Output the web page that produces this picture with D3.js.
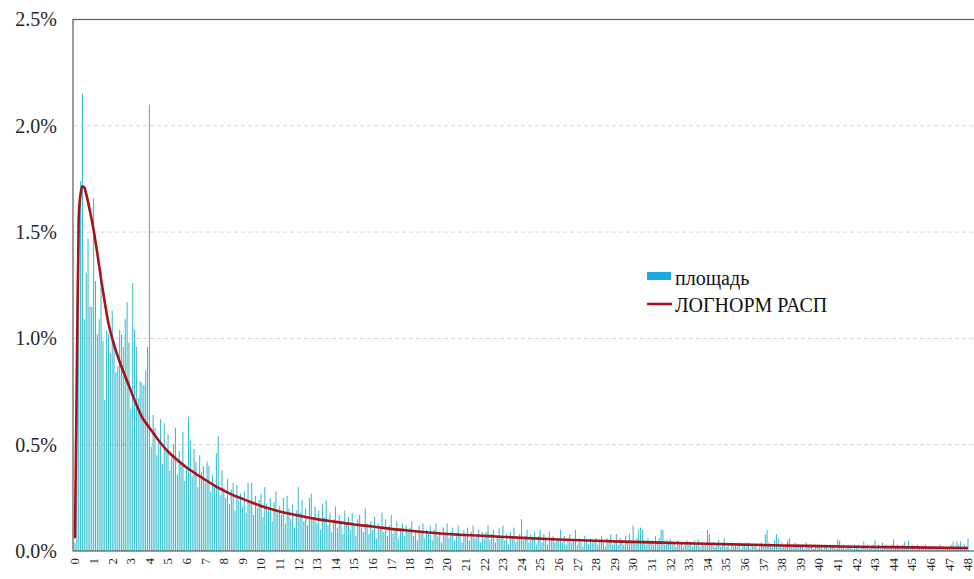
<!DOCTYPE html>
<html>
<head>
<meta charset="utf-8">
<script src="https://cdn.jsdelivr.net/npm/d3@7"></script>
<style>
  html, body { margin: 0; padding: 0; background: #fff; }
  svg { display: block; }
  .serif { font-family: "Liberation Serif", "DejaVu Serif", "Noto Serif", "Times New Roman", Times, serif; }
</style>
</head>
<body>
<svg id="chart" width="974" height="579"></svg>
<script>
// Histogram: bins of 0.1, share of all objects in percent (481 bins, 0.0 … 48.0)
const binStep = 0.1;
const areaShare = [
  // 0
  0.04, 0.91, 1.61, 1.74, 2.15, 1.09, 1.31, 1.47, 1.15, 1.15,
  // 1
  1.66, 1.27, 1.02, 1.09, 1.32, 0.99, 0.71, 1.04, 1.02, 0.93,
  // 2
  1.13, 0.99, 0.84, 0.87, 1.04, 1.02, 0.96, 1.09, 1.17, 0.98,
  // 3
  0.67, 1.26, 1.04, 0.96, 0.72, 0.80, 0.79, 0.78, 0.85, 0.96,
  // 4
  2.10, 0.49, 0.64, 0.58, 0.45, 0.52, 0.62, 0.41, 0.60, 0.47,
  // 5
  0.55, 0.38, 0.44, 0.50, 0.58, 0.36, 0.47, 0.42, 0.56, 0.33,
  // 6
  0.40, 0.63, 0.52, 0.35, 0.48, 0.42, 0.30, 0.45, 0.37, 0.40,
  // 7
  0.32, 0.42, 0.40, 0.28, 0.36, 0.30, 0.46, 0.54, 0.26, 0.38,
  // 8
  0.30, 0.25, 0.34, 0.22, 0.29, 0.32, 0.19, 0.31, 0.24, 0.27,
  // 9
  0.21, 0.28, 0.18, 0.32, 0.23, 0.32, 0.17, 0.26, 0.20, 0.24,
  // 10
  0.27, 0.16, 0.30, 0.22, 0.19, 0.25, 0.14, 0.23, 0.28, 0.18,
  // 11
  0.21, 0.17, 0.25, 0.13, 0.26, 0.20, 0.15, 0.22, 0.11, 0.19,
  // 12
  0.30, 0.18, 0.24, 0.14, 0.20, 0.12, 0.25, 0.27, 0.16, 0.21,
  // 13
  0.13, 0.19, 0.10, 0.22, 0.16, 0.24, 0.12, 0.18, 0.09, 0.15,
  // 14
  0.21, 0.11, 0.17, 0.14, 0.08, 0.19, 0.13, 0.16, 0.10, 0.18,
  // 15
  0.12, 0.07, 0.15, 0.17, 0.11, 0.09, 0.20, 0.13, 0.08, 0.14,
  // 16
  0.10, 0.16, 0.06, 0.13, 0.11, 0.18, 0.09, 0.15, 0.07, 0.12,
  // 17
  0.17, 0.08, 0.11, 0.14, 0.06, 0.10, 0.13, 0.07, 0.12, 0.09,
  // 18
  0.11, 0.14, 0.07, 0.10, 0.05, 0.12, 0.09, 0.13, 0.06, 0.10,
  // 19
  0.08, 0.12, 0.05, 0.10, 0.13, 0.07, 0.09, 0.04, 0.11, 0.08,
  // 20
  0.13, 0.06, 0.09, 0.11, 0.05, 0.08, 0.12, 0.07, 0.04, 0.10,
  // 21
  0.07, 0.11, 0.05, 0.09, 0.12, 0.06, 0.08, 0.10, 0.04, 0.09,
  // 22
  0.06, 0.09, 0.12, 0.05, 0.08, 0.10, 0.04, 0.07, 0.11, 0.06,
  // 23
  0.12, 0.05, 0.08, 0.03, 0.09, 0.07, 0.11, 0.04, 0.06, 0.08,
  // 24
  0.15, 0.05, 0.07, 0.10, 0.04, 0.08, 0.06, 0.09, 0.03, 0.07,
  // 25
  0.10, 0.04, 0.08, 0.06, 0.03, 0.09, 0.05, 0.07, 0.04, 0.06,
  // 26
  0.05, 0.10, 0.04, 0.07, 0.03, 0.06, 0.08, 0.04, 0.05, 0.10,
  // 27
  0.03, 0.06, 0.04, 0.02, 0.07, 0.05, 0.03, 0.06, 0.04, 0.05,
  // 28
  0.06, 0.03, 0.05, 0.07, 0.04, 0.02, 0.06, 0.05, 0.08, 0.03,
  // 29
  0.04, 0.08, 0.03, 0.06, 0.05, 0.03, 0.07, 0.04, 0.08, 0.05,
  // 30
  0.12, 0.04, 0.06, 0.10, 0.11, 0.10, 0.05, 0.03, 0.06, 0.04,
  // 31
  0.05, 0.03, 0.07, 0.04, 0.06, 0.10, 0.10, 0.03, 0.05, 0.04,
  // 32
  0.055, 0.03, 0.04, 0.02, 0.05, 0.03, 0.04, 0.02, 0.03, 0.05,
  // 33
  0.03, 0.04, 0.02, 0.05, 0.03, 0.055, 0.02, 0.04, 0.03, 0.04,
  // 34
  0.10, 0.08, 0.03, 0.04, 0.02, 0.03, 0.05, 0.02, 0.03, 0.06,
  // 35
  0.02, 0.03, 0.01, 0.04, 0.02, 0.03, 0.02, 0.04, 0.01, 0.03,
  // 36
  0.03, 0.02, 0.04, 0.01, 0.03, 0.02, 0.03, 0.01, 0.02, 0.04,
  // 37
  0.03, 0.08, 0.10, 0.04, 0.03, 0.02, 0.05, 0.08, 0.06, 0.03,
  // 38
  0.04, 0.02, 0.03, 0.05, 0.06, 0.02, 0.03, 0.04, 0.02, 0.03,
  // 39
  0.02, 0.03, 0.01, 0.04, 0.02, 0.03, 0.02, 0.01, 0.03, 0.02,
  // 40
  0.03, 0.02, 0.01, 0.03, 0.02, 0.01, 0.03, 0.02, 0.02, 0.01,
  // 41
  0.055, 0.05, 0.02, 0.03, 0.01, 0.02, 0.03, 0.02, 0.01, 0.03,
  // 42
  0.02, 0.03, 0.01, 0.02, 0.045, 0.02, 0.03, 0.01, 0.02, 0.03,
  // 43
  0.05, 0.02, 0.03, 0.01, 0.04, 0.02, 0.03, 0.02, 0.01, 0.03,
  // 44
  0.055, 0.02, 0.03, 0.02, 0.01, 0.03, 0.045, 0.02, 0.048, 0.02,
  // 45
  0.03, 0.02, 0.01, 0.03, 0.02, 0.01, 0.02, 0.03, 0.01, 0.02,
  // 46
  0.01, 0.02, 0.01, 0.02, 0.01, 0.03, 0.02, 0.01, 0.02, 0.01,
  // 47
  0.02, 0.03, 0.045, 0.02, 0.045, 0.03, 0.045, 0.02, 0.03, 0.02,
  // 48
  0.06
];

// Fitted lognormal curve: position on the axis and percent
const fitX = [0, 0.1, 0.2, 0.3, 0.4, 0.5, 0.6, 0.8, 1.0, 1.2, 1.4, 1.6, 1.8, 2.0, 2.4, 2.8, 3.2, 3.6,
  4.0, 4.5, 5.0, 5.5, 6.0, 6.5, 7.0, 7.5, 8.0, 8.5, 9.0, 9.5, 10, 11, 12, 13, 14, 15,
  16, 17, 18, 19, 20, 22, 24, 26, 28, 30, 32, 34, 36, 38, 40, 42, 44, 46, 48];
const fitY = [0.06, 0.85, 1.57, 1.68, 1.715, 1.71, 1.68, 1.60, 1.51, 1.40, 1.28, 1.17, 1.07, 1.00, 0.89, 0.80, 0.71, 0.63,
  0.58, 0.52, 0.468, 0.428, 0.393, 0.363, 0.335, 0.308, 0.284, 0.263, 0.245, 0.228, 0.212, 0.186, 0.167, 0.150, 0.137, 0.125,
  0.115, 0.104, 0.095, 0.087, 0.080, 0.071, 0.062, 0.054, 0.048, 0.043, 0.038, 0.034, 0.030, 0.026, 0.023, 0.020, 0.018, 0.016, 0.014];

const yTicks = [0, 0.5, 1.0, 1.5, 2.0, 2.5];
const xTickLabels = d3.range(0, 49);        // integer labels under every 10th bin
const seriesNames = ["площадь", "ЛОГНОРМ РАСП"];

const svg = d3.select("#chart");
const plot = { left: 73, top: 19.5, right: 976, bottom: 551 };

const bins = areaShare.map((v, i) => ({ i, v }));
const x = d3.scaleBand()
  .domain(bins.map(d => d.i))
  .range([74.07, 968.93])
  .paddingInner(0.42)
  .paddingOuter(0.21);

const center = i => x(i) + x.bandwidth() / 2;
const xPos = d3.scaleLinear()
  .domain([0, binStep * (bins.length - 1)])
  .range([center(0), center(bins.length - 1)]);

const y = d3.scaleLinear().domain([0, 2.5]).range([plot.bottom, plot.top]);

// gridlines
svg.append("g")
  .selectAll("line")
  .data(yTicks.filter(t => t > 0 && t < 2.5))
  .join("line")
  .attr("x1", plot.left).attr("x2", plot.right)
  .attr("y1", d => y(d)).attr("y2", d => y(d))
  .attr("stroke", "#d4d4d4")
  .attr("stroke-width", 1)
  .attr("stroke-dasharray", "4,3");

// bars
svg.append("g")
  .selectAll("rect")
  .data(bins)
  .join("rect")
  .attr("x", d => x(d.i))
  .attr("width", x.bandwidth())
  .attr("y", d => y(d.v))
  .attr("height", d => y(0) - y(d.v))
  .attr("fill", "#3bbdd0");

// frame
svg.append("rect")
  .attr("x", plot.left).attr("y", y(2.5))
  .attr("width", plot.right - plot.left)
  .attr("height", y(0) - y(2.5))
  .attr("fill", "none")
  .attr("stroke", "#595959")
  .attr("stroke-width", 1.2);

// lognormal curve
const line = d3.line()
  .x((d, i) => xPos(fitX[i]))
  .y(d => y(d))
  .curve(d3.curveMonotoneX);
svg.append("path")
  .datum(fitY)
  .attr("d", line)
  .attr("fill", "none")
  .attr("stroke", "#a8121a")
  .attr("stroke-width", 2.6)
  .attr("stroke-linejoin", "round");

// y axis labels
const yAxis = d3.axisLeft(y)
  .tickValues(yTicks)
  .tickFormat(d => d3.format(".1f")(d) + "%")
  .tickSize(0)
  .tickPadding(16);
const gy = svg.append("g").attr("transform", `translate(${plot.left},0)`).call(yAxis);
gy.select(".domain").remove();
gy.attr("font-family", null).attr("font-size", null);
gy.selectAll("text")
  .attr("class", "serif")
  .style("font-size", "20px")
  .attr("fill", "#262626");

// x axis labels (rotated)
const labelBins = bins.filter(d => d.i % 10 === 0);
svg.append("g")
  .selectAll("text")
  .data(labelBins)
  .join("text")
  .attr("class", "serif")
  .attr("transform", d => `translate(${center(d.i)},558) rotate(-90)`)
  .attr("text-anchor", "end")
  .attr("dy", "0.33em")
  .style("font-size", "13px")
  .attr("fill", "#262626")
  .text(d => xTickLabels[d.i / 10]);

// legend
const lg = svg.append("g").attr("class", "serif").style("font-size", "20px").attr("fill", "#111");
lg.append("rect").attr("x", 647).attr("y", 272).attr("width", 24).attr("height", 8).attr("fill", "#1ea8e2");
lg.append("text").attr("x", 675).attr("y", 285).text(seriesNames[0]);
lg.append("line").attr("x1", 647).attr("x2", 672).attr("y1", 304).attr("y2", 304)
  .attr("stroke", "#a8121a").attr("stroke-width", 2.6);
lg.append("text").attr("x", 675).attr("y", 311.5).text(seriesNames[1]);
</script>
</body>
</html>
